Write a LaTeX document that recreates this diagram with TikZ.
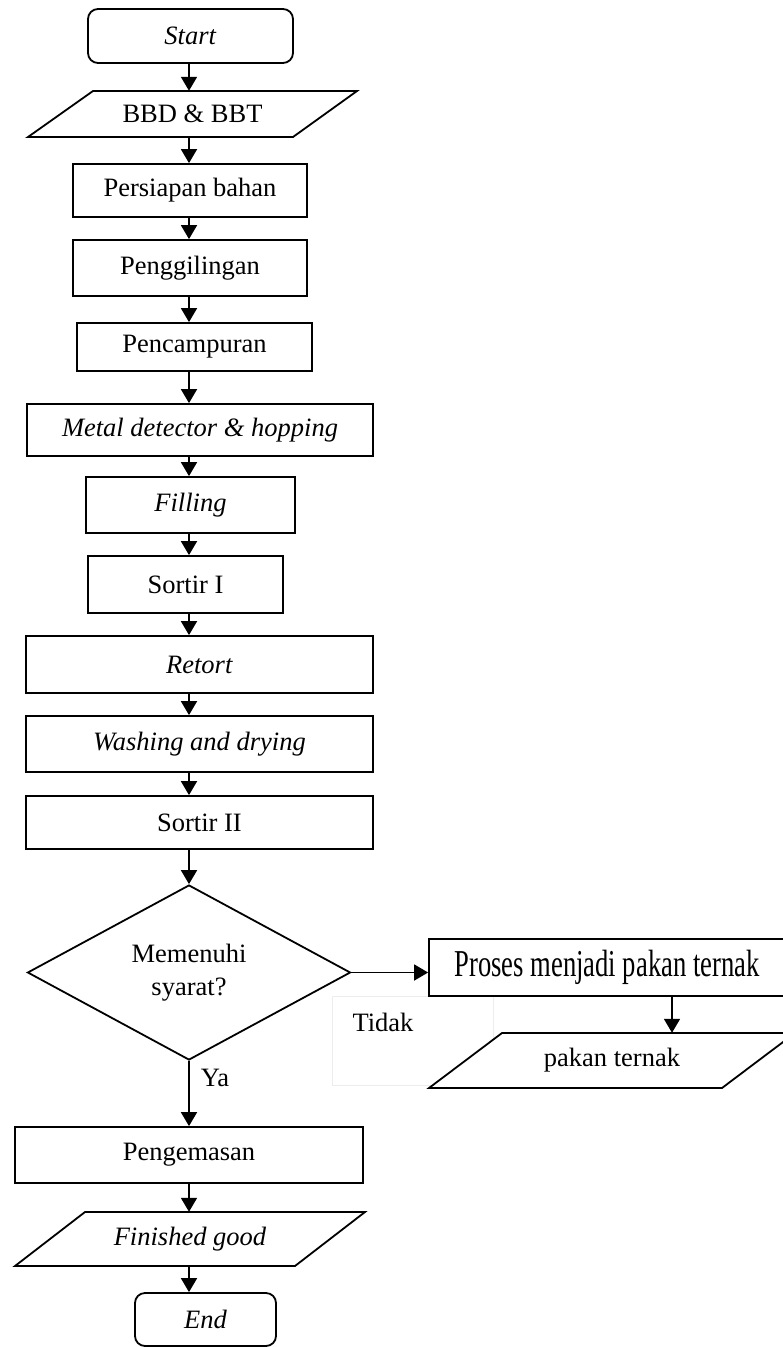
\documentclass[tikz,border=0pt]{standalone}
\usepackage{fontspec}
\setmainfont{Liberation Serif}
\usetikzlibrary{shapes.geometric,arrows.meta}
\begin{document}
\begin{tikzpicture}[x=1pt,y=-1pt,
  txt/.style={font=\fontsize{26.5}{33}\selectfont, align=center, inner sep=0pt},
  box/.style={txt, draw, rectangle, line width=1.8pt},
  term/.style={box, rounded corners=10pt},
  io/.style={txt, rectangle},
  para/.style={draw, line width=1.8pt, line join=miter},
  arr/.style={-{Triangle[width=16pt,length=14pt]}, line width=1.8pt},
  faint/.style={draw=black!7, line width=1pt}
]
\clip (0,0) rectangle (783,1347);
\fill[white] (0,0) rectangle (783,1347);

\coordinate (axis) at (189,0);
\coordinate (pcol) at (672,0);

% faint text frame behind the "Tidak" label
\draw[faint] (332,996) rectangle (493,1085);

% main column
\node[term, minimum width=205pt, minimum height=54pt] (start) at (190.5,36) {\textit{Start}};

\draw[para] (93,91) -- (357,91) -- (293,137) -- (28,137) -- cycle;
\node[io, minimum width=200pt, minimum height=46pt] (bbd) at (192.5,114) {BBD \& BBT};

\node[box, minimum width=234pt, minimum height=53pt] (persiapan) at (190,190.5) {Persiapan bahan};
\node[box, minimum width=234pt, minimum height=56pt] (giling) at (190,268) {Penggilingan};
\node[box, minimum width=235pt, minimum height=48pt] (campur) at (194.5,347) {Pencampuran};
\node[box, minimum width=346pt, minimum height=52pt] (metal) at (200,430) {\textit{Metal detector \& hopping}};
\node[box, minimum width=209pt, minimum height=56pt] (filling) at (190.5,505) {\textit{Filling}};
\node[box, minimum width=195pt, minimum height=57pt] (sortir1) at (185.5,584.5) {Sortir I};
\node[box, minimum width=347pt, minimum height=57pt] (retort) at (199.5,664.5) {\textit{Retort}};
\node[box, minimum width=347pt, minimum height=56pt] (washing) at (199.5,744) {\textit{Washing and drying}};
\node[box, minimum width=347pt, minimum height=53pt] (sortir2) at (199.5,822.5) {Sortir II};

\node[txt, draw, diamond, aspect=2, line width=1.8pt, minimum width=323pt, minimum height=175pt] (dec) at (189,972.5) {Memenuhi\\syarat?};

% right branch
\node[box, minimum width=356pt, minimum height=57pt] (proses) at (607,967.5)
  {\scalebox{0.7}[1]{\fontsize{38}{40}\selectfont Proses menjadi pakan ternak}};
\draw[para, fill=white] (502,1033) -- (795,1033) -- (722,1088) -- (429,1088) -- cycle;
\node[io, minimum width=200pt, minimum height=55pt] (pakan) at (612,1060.5) {pakan ternak};

\node[txt] (tidak) at (383,1022) {Tidak};
\node[txt] (ya) at (215,1078) {Ya};

% lower column
\node[box, minimum width=348pt, minimum height=56pt] (kemas) at (189,1155) {Pengemasan};
\draw[para] (85,1212) -- (365,1212) -- (295,1266) -- (15,1266) -- cycle;
\node[io, minimum width=200pt, minimum height=54pt] (finished) at (190,1239) {\textit{Finished good}};
\node[term, minimum width=141pt, minimum height=53pt] (end) at (205.5,1319.5) {\textit{End}};

% connectors
\draw[arr] (start.south -| axis) -- (bbd.north -| axis);
\draw[arr] (bbd.south -| axis) -- (persiapan.north -| axis);
\draw[arr] (persiapan.south -| axis) -- (giling.north -| axis);
\draw[arr] (giling.south -| axis) -- (campur.north -| axis);
\draw[arr] (campur.south -| axis) -- (metal.north -| axis);
\draw[arr] (metal.south -| axis) -- (filling.north -| axis);
\draw[arr] (filling.south -| axis) -- (sortir1.north -| axis);
\draw[arr] (sortir1.south -| axis) -- (retort.north -| axis);
\draw[arr] (retort.south -| axis) -- (washing.north -| axis);
\draw[arr] (washing.south -| axis) -- (sortir2.north -| axis);
\draw[arr] (sortir2.south -| dec.north) -- (dec.north);
\draw[arr] (dec.east) -- (dec.east -| proses.west);
\draw[arr] (proses.south -| pcol) -- (pakan.north -| pcol);
\draw[arr] (dec.south) -- (dec.south |- kemas.north);
\draw[arr] (kemas.south -| axis) -- (finished.north -| axis);
\draw[arr] (finished.south -| axis) -- (end.north -| axis);
\end{tikzpicture}
\end{document}
